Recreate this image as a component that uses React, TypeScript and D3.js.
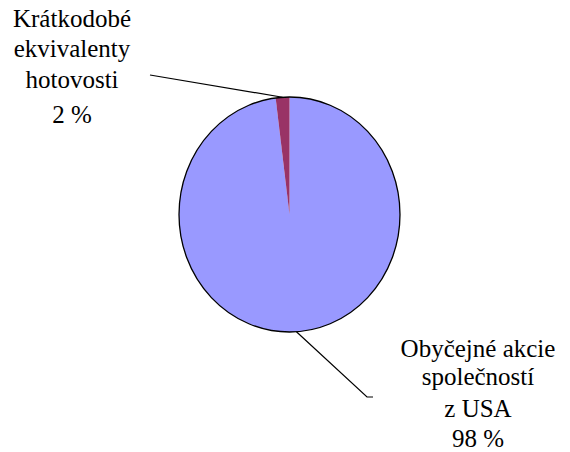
import React from 'react'
import * as d3 from 'd3'

const width = 570
const height = 452
const center = { x: 289.5, y: 214.5 }
const radiusX = 110.5
const radiusY = 117.5
const fontSize = 25
const fontFamily = 'Liberation Serif, Times New Roman, Times, DejaVu Serif, serif'

const categories = ['Obyčejné akcie společností z USA', 'Krátkodobé ekvivalenty hotovosti']
const values = [98, 2]
const colors = ['#9999FF', '#993366']
const labelLines = [
  ['Obyčejné akcie', 'společností', 'z USA', '98 %'],
  ['Krátkodobé', 'ekvivalenty', 'hotovosti', '2 %'],
]

// where the leader lines end and where the label blocks sit
const labelLayout = [
  { lineEnd: [367, 397], lineTail: [373, 397], textX: 478, firstBaseline: 357, gaps: [0, 28, 32, 30] },
  { lineEnd: [150, 75], lineTail: null, textX: 72, firstBaseline: 27, gaps: [0, 30, 31, 35] },
]

function App() {
  const pie = d3
    .pie<number>()
    .sort(null)
    .value((d) => d)
  const arcs = pie(values)

  const arc = d3.arc<d3.PieArcDatum<number>>().innerRadius(0).outerRadius(radiusY)

  const edgePoint = (a: d3.PieArcDatum<number>) => {
    const mid = (a.startAngle + a.endAngle) / 2
    return [center.x + radiusX * Math.sin(mid), center.y - radiusY * Math.cos(mid)]
  }

  return (
    <svg
      width={width}
      height={height}
      style={{ position: 'absolute', left: 0, top: 0, background: 'white' }}
    >
      <g transform={`translate(${center.x},${center.y}) scale(${radiusX / radiusY},1)`}>
        {arcs.map((a, i) => (
          <path key={categories[i]} d={arc(a) || ''} fill={colors[i]} stroke="none" />
        ))}
        <ellipse
          cx={0}
          cy={0}
          rx={radiusY}
          ry={radiusY}
          fill="none"
          stroke="#000"
          strokeWidth={1.3}
          vectorEffect="non-scaling-stroke"
        />
      </g>
      {arcs.map((a, i) => {
        const [x0, y0] = edgePoint(a)
        const lay = labelLayout[i]
        const pts = [[x0, y0], lay.lineEnd]
        if (lay.lineTail) pts.push(lay.lineTail)
        let y = lay.firstBaseline
        return (
          <g key={categories[i]}>
            <polyline
              points={pts.map((p) => p.join(',')).join(' ')}
              fill="none"
              stroke="#000"
              strokeWidth={1.2}
            />
            <text style={{ fontFamily, fontSize }} textAnchor="middle" fill="#000">
              {labelLines[i].map((t, j) => {
                y += lay.gaps[j]
                return (
                  <tspan key={t} x={lay.textX} y={y}>
                    {t}
                  </tspan>
                )
              })}
            </text>
          </g>
        )
      })}
    </svg>
  )
}

export default App
